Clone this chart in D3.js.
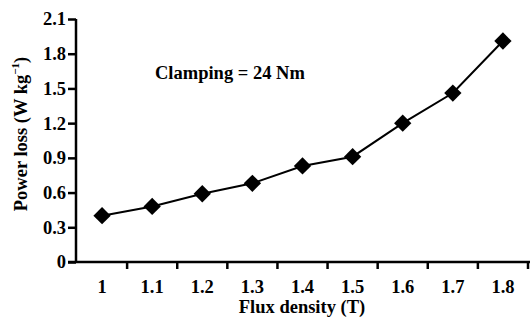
<!DOCTYPE html>
<html>
<head>
<meta charset="utf-8">
<script src="https://cdn.jsdelivr.net/npm/d3@7"></script>
<style>
  html, body { margin: 0; padding: 0; background: #fff; }
  svg { display: block; }
  text { font-family: "Liberation Serif", "Times New Roman", serif; fill: #000; font-weight: bold; }
</style>
</head>
<body>
<svg id="chart" width="530" height="320"></svg>
<script>
// Flux density categories (T) and measured power loss (W/kg)
const fluxDensity = ["1", "1.1", "1.2", "1.3", "1.4", "1.5", "1.6", "1.7", "1.8"];
const powerLoss = [0.40, 0.48, 0.59, 0.68, 0.83, 0.91, 1.20, 1.46, 1.91];
const yTicks = [0, 0.3, 0.6, 0.9, 1.2, 1.5, 1.8, 2.1];
const annotation = "Clamping = 24 Nm";

const svg = d3.select("#chart");
const plotLeft = 76, plotRight = 528, plotTop = 19, plotBottom = 262;

const x = d3.scaleBand().domain(fluxDensity).range([plotLeft + 1, plotRight]).padding(0);
const y = d3.scaleLinear().domain([0, 2.1]).range([plotBottom, plotTop]);

const fontSize = 18.5;
const font = "Liberation Serif";

// Y axis
const yAxis = svg.append("g")
  .attr("transform", `translate(${plotLeft},0)`)
  .call(d3.axisLeft(y).tickValues(yTicks).tickSize(8).tickPadding(2)
    .tickFormat(d => d === 0 ? "0" : d3.format(".1f")(d)));
yAxis.select(".domain").attr("stroke", "#000").attr("stroke-width", 2.5).attr("d", `M0,${plotTop}V${plotBottom}`);
yAxis.selectAll(".tick line").attr("stroke", "#000").attr("stroke-width", 2.5);
yAxis.selectAll(".tick text").style("font-size", fontSize + "px").style("font-family", font).style("font-weight", "bold");

// X axis: labels centred in each band, ticks on band boundaries
const xAxis = svg.append("g")
  .attr("transform", `translate(0,${plotBottom})`)
  .call(d3.axisBottom(x).tickSize(0).tickPadding(18));
xAxis.select(".domain").attr("stroke", "#000").attr("stroke-width", 2.5).attr("d", `M${plotLeft - 8},0H530`);
xAxis.selectAll(".tick text").style("font-size", fontSize + "px").style("font-family", font).style("font-weight", "bold");
xAxis.selectAll(".bound")
  .data(fluxDensity)
  .join("line")
  .attr("class", "bound")
  .attr("x1", d => x(d) + x.bandwidth())
  .attr("x2", d => x(d) + x.bandwidth())
  .attr("y1", 0).attr("y2", 7)
  .attr("stroke", "#000").attr("stroke-width", 2.5);

// Data line and diamond markers
const pts = fluxDensity.map((c, i) => [x(c) + x.bandwidth() / 2, y(powerLoss[i])]);
svg.append("path")
  .attr("d", d3.line()(pts))
  .attr("fill", "none").attr("stroke", "#000").attr("stroke-width", 2);

const diamond = d3.symbol().type(d3.symbolSquare).size(150);
svg.selectAll(".pt")
  .data(pts)
  .join("path")
  .attr("class", "pt")
  .attr("d", diamond)
  .attr("transform", d => `translate(${d[0]},${d[1]}) rotate(45)`)
  .attr("fill", "#000");

// Annotation
svg.append("text")
  .attr("x", 155).attr("y", 79)
  .style("font-size", fontSize + "px")
  .text(annotation);

// Axis titles
svg.append("text")
  .attr("x", 302).attr("y", 313)
  .attr("text-anchor", "middle")
  .style("font-size", fontSize + "px")
  .text("Flux density (T)");

const yTitle = svg.append("text")
  .attr("transform", `translate(27,134) rotate(-90)`)
  .attr("text-anchor", "middle")
  .style("font-size", fontSize + "px");
yTitle.append("tspan").text("Power loss (W kg");
yTitle.append("tspan").attr("dy", -8).style("font-size", "11px").text("−1");
yTitle.append("tspan").attr("dy", 8).text(")");
</script>
</body>
</html>
